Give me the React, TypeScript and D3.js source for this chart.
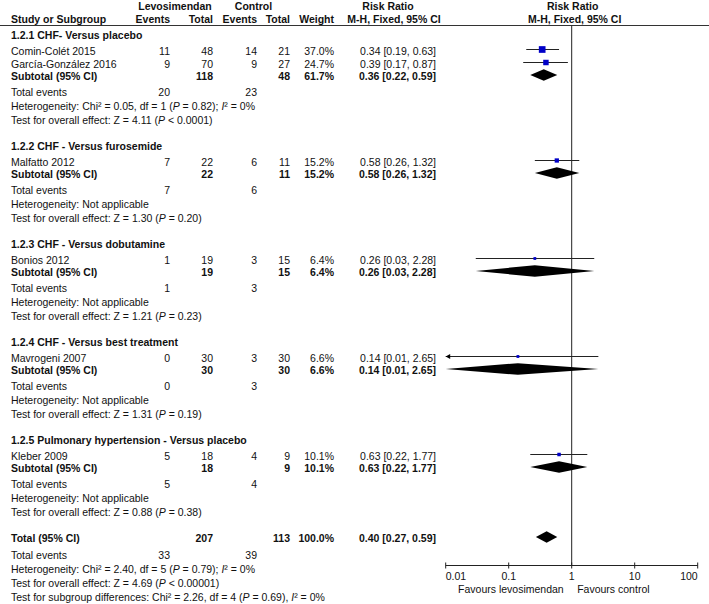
import React from "react";
import * as d3 from "d3";

const subgroupTitles = [
  "1.2.1 CHF- Versus placebo",
  "1.2.2 CHF - Versus furosemide",
  "1.2.3 CHF - Versus dobutamine",
  "1.2.4 CHF - Versus best treatment",
  "1.2.5 Pulmonary hypertension - Versus placebo",
];
const studyNames = [
  "Comin-Colét 2015",
  "García-González 2016",
  "Malfatto 2012",
  "Bonios 2012",
  "Mavrogeni 2007",
  "Kleber 2009",
];
const studyGroup = [0, 0, 1, 2, 3, 4];
const studyLevoEvents = [11, 9, 7, 1, 0, 5];
const studyLevoTotal = [48, 70, 22, 19, 30, 18];
const studyCtrlEvents = [14, 9, 6, 3, 3, 4];
const studyCtrlTotal = [21, 27, 11, 15, 30, 9];
const studyWeight = ["37.0%", "24.7%", "15.2%", "6.4%", "6.6%", "10.1%"];
const studyWeightNum = [37.0, 24.7, 15.2, 6.4, 6.6, 10.1];
const studyRR = [0.34, 0.39, 0.58, 0.26, 0.14, 0.63];
const studyLow = [0.19, 0.17, 0.26, 0.03, 0.01, 0.22];
const studyHigh = [0.63, 0.87, 1.32, 2.28, 2.65, 1.77];
const studyRRText = ["0.34", "0.39", "0.58", "0.26", "0.14", "0.63"];
const studyLowText = ["0.19", "0.17", "0.26", "0.03", "0.01", "0.22"];
const studyHighText = ["0.63", "0.87", "1.32", "2.28", "2.65", "1.77"];

const subLevoTotal = [118, 22, 19, 30, 18];
const subCtrlTotal = [48, 11, 15, 30, 9];
const subWeight = ["61.7%", "15.2%", "6.4%", "6.6%", "10.1%"];
const subLevoEvents = [20, 7, 1, 0, 5];
const subCtrlEvents = [23, 6, 3, 3, 4];
const subRR = [0.36, 0.58, 0.26, 0.14, 0.63];
const subLow = [0.22, 0.26, 0.03, 0.01, 0.22];
const subHigh = [0.59, 1.32, 2.28, 2.65, 1.77];
const subRRText = ["0.36", "0.58", "0.26", "0.14", "0.63"];
const subLowText = ["0.22", "0.26", "0.03", "0.01", "0.22"];
const subHighText = ["0.59", "1.32", "2.28", "2.65", "1.77"];
const subHetChi = ["0.05", null, null, null, null];
const subHetDf = ["1", null, null, null, null];
const subHetP = ["0.82", null, null, null, null];
const subHetI2 = ["0%", null, null, null, null];
const subZ = ["4.11", "1.30", "1.21", "1.31", "0.88"];
const subP = ["< 0.0001", "= 0.20", "= 0.23", "= 0.19", "= 0.38"];

const totalLevoTotal = 207;
const totalCtrlTotal = 113;
const totalWeight = "100.0%";
const totalLevoEvents = 33;
const totalCtrlEvents = 39;
const totalRR = 0.4;
const totalLow = 0.27;
const totalHigh = 0.59;
const totalRRText = ["0.40", "0.27", "0.59"];
const totalHet = ["2.40", "5", "0.79", "0%"];
const totalZ = ["4.69", "< 0.00001"];
const subgroupDiff = ["2.26", "4", "0.69", "0%"];

const tickValues = [0.01, 0.1, 1, 10, 100];
const tickLabels = ["0.01", "0.1", "1", "10", "100"];
const favourLeft = "Favours levosimendan";
const favourRight = "Favours control";

const W = 709;
const H = 604;
const FONT = "'Liberation Sans', Arial, Helvetica, sans-serif";
const FS = 10.5;
const TXT = "#111";
const BLUE = "#0000c8";

const colLevoEv = 170;
const colLevoTot = 213;
const colCtrlEv = 257;
const colCtrlTot = 290;
const colWeight = 334;
const colRR = 436;

export default function App() {
  const x = d3.scaleLog().domain([0.01, 100]).range([445.7, 697.7]);
  const [xMin, xMax] = x.range();
  const cx = (v: number) => Math.max(xMin, Math.min(xMax, x(v)));
  const oneX = x(1);
  const axisY = 565.5;
  const headerLineY = 25.5;
  const bo = 3.7;
  const mo = -1.5; // mark offset relative to text centre

  const elems: React.ReactNode[] = [];
  let k = 0;
  const T = (
    xx: number,
    yc: number,
    content: React.ReactNode,
    opts: { anchor?: string; bold?: boolean } = {}
  ) => {
    elems.push(
      <text
        key={"t" + k++}
        x={xx}
        y={yc + bo}
        textAnchor={opts.anchor || "start"}
        fontWeight={opts.bold ? "bold" : "normal"}
      >
        {content}
      </text>
    );
  };
  const diamond = (yc0: number, lo: number, mid: number, hi: number) => {
    const h = 5.8;
    const yc = yc0 + mo;
    elems.push(
      <path
        key={"d" + k++}
        d={`M${cx(lo)},${yc} L${x(mid)},${yc - h} L${cx(hi)},${yc} L${x(mid)},${yc + h} Z`}
        fill="#000"
      />
    );
  };

  let y = 35.5;
  subgroupTitles.forEach((title, g) => {
    T(11, y, title, { bold: true });
    const idx = studyGroup.map((sg, i) => (sg === g ? i : -1)).filter((i) => i >= 0);
    let sy = y + 15.5;
    idx.forEach((i, j) => {
      if (j > 0) sy += 13;
      T(11, sy, studyNames[i]);
      T(colLevoEv, sy, studyLevoEvents[i], { anchor: "end" });
      T(colLevoTot, sy, studyLevoTotal[i], { anchor: "end" });
      T(colCtrlEv, sy, studyCtrlEvents[i], { anchor: "end" });
      T(colCtrlTot, sy, studyCtrlTotal[i], { anchor: "end" });
      T(colWeight, sy, studyWeight[i], { anchor: "end" });
      T(colRR, sy, `${studyRRText[i]} [${studyLowText[i]}, ${studyHighText[i]}]`, { anchor: "end" });
      const my = sy + mo;
      const x1 = cx(studyLow[i]);
      const x2 = cx(studyHigh[i]);
      elems.push(
        <line key={"l" + k++} x1={x1} x2={x2} y1={my} y2={my} stroke="#222" strokeWidth={1} />
      );
      if (studyLow[i] <= 0.01) {
        elems.push(
          <path
            key={"a" + k++}
            d={`M${xMin},${my} L${xMin + 4.5},${my - 2.5} L${xMin + 4.5},${my + 2.5} Z`}
            fill="#000"
          />
        );
      }
      const s = 1.1 * Math.sqrt(studyWeightNum[i]);
      elems.push(
        <rect
          key={"s" + k++}
          x={x(studyRR[i]) - s / 2}
          y={my - s / 2}
          width={s}
          height={s}
          fill={BLUE}
        />
      );
    });
    const suby = sy + 12.5;
    T(11, suby, "Subtotal (95% CI)", { bold: true });
    T(colLevoTot, suby, subLevoTotal[g], { anchor: "end", bold: true });
    T(colCtrlTot, suby, subCtrlTotal[g], { anchor: "end", bold: true });
    T(colWeight, suby, subWeight[g], { anchor: "end", bold: true });
    T(colRR, suby, `${subRRText[g]} [${subLowText[g]}, ${subHighText[g]}]`, { anchor: "end", bold: true });
    diamond(suby, subLow[g], subRR[g], subHigh[g]);
    const tey = suby + 15.5;
    T(11, tey, "Total events");
    T(colLevoEv, tey, subLevoEvents[g], { anchor: "end" });
    T(colCtrlEv, tey, subCtrlEvents[g], { anchor: "end" });
    const hy = tey + 14;
    if (subHetChi[g] != null) {
      T(
        11,
        hy,
        <>
          {`Heterogeneity: Chi² = ${subHetChi[g]}, df = ${subHetDf[g]} (`}
          <tspan fontStyle="italic">P</tspan>
          {` = ${subHetP[g]}); `}
          <tspan fontStyle="italic">I</tspan>
          {`² = ${subHetI2[g]}`}
        </>
      );
    } else {
      T(11, hy, "Heterogeneity: Not applicable");
    }
    const ty = hy + 14;
    T(
      11,
      ty,
      <>
        {`Test for overall effect: Z = ${subZ[g]} (`}
        <tspan fontStyle="italic">P</tspan>
        {` ${subP[g]})`}
      </>
    );
    y = ty + 26.5;
  });

  // Total
  const toty = y;
  T(11, toty, "Total (95% CI)", { bold: true });
  T(colLevoTot, toty, totalLevoTotal, { anchor: "end", bold: true });
  T(colCtrlTot, toty, totalCtrlTotal, { anchor: "end", bold: true });
  T(colWeight, toty, totalWeight, { anchor: "end", bold: true });
  T(colRR, toty, `${totalRRText[0]} [${totalRRText[1]}, ${totalRRText[2]}]`, { anchor: "end", bold: true });
  diamond(toty, totalLow, totalRR, totalHigh);
  const ttey = toty + 16.5;
  T(11, ttey, "Total events");
  T(colLevoEv, ttey, totalLevoEvents, { anchor: "end" });
  T(colCtrlEv, ttey, totalCtrlEvents, { anchor: "end" });
  T(
    11,
    ttey + 14,
    <>
      {`Heterogeneity: Chi² = ${totalHet[0]}, df = ${totalHet[1]} (`}
      <tspan fontStyle="italic">P</tspan>
      {` = ${totalHet[2]}); `}
      <tspan fontStyle="italic">I</tspan>
      {`² = ${totalHet[3]}`}
    </>
  );
  T(
    11,
    ttey + 28,
    <>
      {`Test for overall effect: Z = ${totalZ[0]} (`}
      <tspan fontStyle="italic">P</tspan>
      {` ${totalZ[1]})`}
    </>
  );
  T(
    11,
    ttey + 42,
    <>
      {`Test for subgroup differences: Chi² = ${subgroupDiff[0]}, df = ${subgroupDiff[1]} (`}
      <tspan fontStyle="italic">P</tspan>
      {` = ${subgroupDiff[2]}), `}
      <tspan fontStyle="italic">I</tspan>
      {`² = ${subgroupDiff[3]}`}
    </>
  );

  return (
    <svg
      width={W}
      height={H}
      style={{ position: "absolute", left: 0, top: 0, background: "#fff" }}
      fontFamily={FONT}
      fontSize={FS}
      fill={TXT}
    >
      <g fontWeight="bold">
        <text x={175} y={9.5} textAnchor="middle">Levosimendan</text>
        <text x={253.5} y={9.5} textAnchor="middle">Control</text>
        <text x={388} y={9.5} textAnchor="middle">Risk Ratio</text>
        <text x={oneX + 1} y={9.5} textAnchor="middle">Risk Ratio</text>
        <text x={11} y={22.5}>Study or Subgroup</text>
        <text x={colLevoEv} y={22.5} textAnchor="end">Events</text>
        <text x={colLevoTot} y={22.5} textAnchor="end">Total</text>
        <text x={colCtrlEv} y={22.5} textAnchor="end">Events</text>
        <text x={colCtrlTot} y={22.5} textAnchor="end">Total</text>
        <text x={colWeight} y={22.5} textAnchor="end">Weight</text>
        <text x={394} y={22.5} textAnchor="middle">M-H, Fixed, 95% CI</text>
        <text x={oneX + 3} y={22.5} textAnchor="middle">M-H, Fixed, 95% CI</text>
      </g>
      <line x1={0} x2={W} y1={headerLineY} y2={headerLineY} stroke="#333" strokeWidth={1} />
      <line x1={oneX} x2={oneX} y1={headerLineY} y2={axisY} stroke="#222" strokeWidth={1} />
      {elems}
      <line x1={xMin} x2={xMax} y1={axisY} y2={axisY} stroke="#222" strokeWidth={1} />
      {tickValues.map((v, i) => (
        <g key={"tk" + i}>
          <line x1={x(v)} x2={x(v)} y1={axisY - 3} y2={axisY + 3} stroke="#222" strokeWidth={1} />
          <text
            x={x(v)}
            y={axisY + 14.5}
            textAnchor={i === 0 ? "start" : i === tickValues.length - 1 ? "end" : "middle"}
          >
            {tickLabels[i]}
          </text>
        </g>
      ))}
      <text x={oneX - 8} y={axisY + 27.5} textAnchor="end">{favourLeft}</text>
      <text x={oneX + 5.5} y={axisY + 27.5}>{favourRight}</text>
    </svg>
  );
}
